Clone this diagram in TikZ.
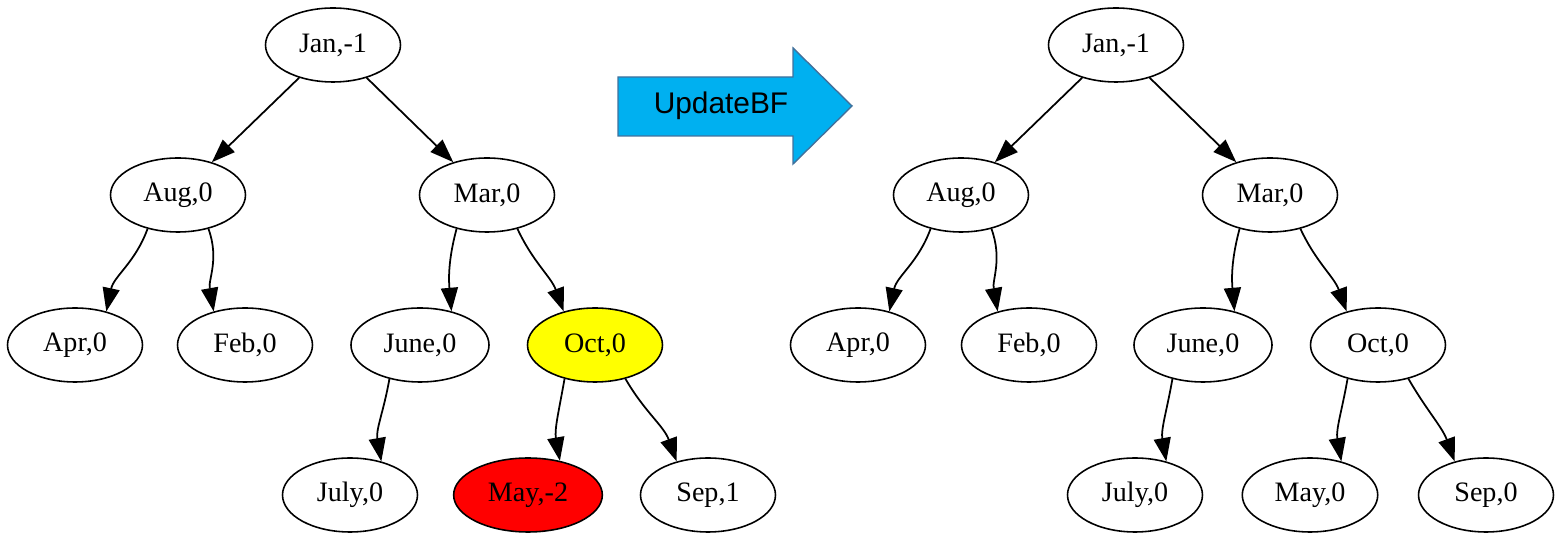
\documentclass[tikz,border=0pt]{standalone}
\usepackage{fontspec}
\setmainfont{Liberation Serif}
\newfontfamily\arialfont{Liberation Sans}
\usetikzlibrary{shapes.geometric, arrows.meta}
\definecolor{nodeyellow}{RGB}{255,255,0}
\definecolor{nodered}{RGB}{255,0,0}
\definecolor{calloutblue}{RGB}{0,176,240}
\definecolor{calloutedge}{RGB}{65,113,156}

\begin{document}
\begin{tikzpicture}[
    x=0.02cm, y=0.02cm,
    avl/.style={ellipse, draw=black, line width=0.9pt, inner xsep=0.25cm, inner ysep=0pt,
                minimum width=2.7cm, minimum height=1.48cm, font=\fontsize{16}{19}\selectfont},
    arrow/.style={-{Triangle[length=0.47cm, width=0.34cm]}, line width=1pt}
]
    \useasboundingbox (0,0) rectangle (1560,-543);

    % Left tree (before)
    \node[avl] (ljan) at (333,-45) {Jan,-1};
    \node[avl] (laug) at (178,-195) {Aug,0};
    \node[avl] (lmar) at (487,-195) {Mar,0};
    \node[avl] (lapr) at (75,-345) {Apr,0};
    \node[avl] (lfeb) at (245,-345) {Feb,0};
    \node[avl] (ljune) at (420,-345) {June,0};
    \node[avl, fill=nodeyellow] (loct) at (595,-345) {Oct,0};
    \node[avl] (ljuly) at (350,-495) {July,0};
    \node[avl, fill=nodered] (lmay) at (528,-495) {May,-2};
    \node[avl] (lsep) at (708,-495) {Sep,1};

    % Right tree (after)
    \node[avl] (rjan) at (1116,-45) {Jan,-1};
    \node[avl] (raug) at (961,-195) {Aug,0};
    \node[avl] (rmar) at (1270,-195) {Mar,0};
    \node[avl] (rapr) at (858,-345) {Apr,0};
    \node[avl] (rfeb) at (1029,-345) {Feb,0};
    \node[avl] (rjune) at (1203,-345) {June,0};
    \node[avl] (roct) at (1378,-345) {Oct,0};
    \node[avl] (rjuly) at (1135,-495) {July,0};
    \node[avl] (rmay) at (1310,-495) {May,0};
    \node[avl] (rsep) at (1486,-495) {Sep,0};

    % Left edges
    \draw[arrow] (ljan) -- (laug);
    \draw[arrow] (ljan) -- (lmar);
    \draw[arrow] (laug.228) to[out=-110, in=78] (lapr.47);
    \draw[arrow] (laug.-48) to[out=-70, in=100] (lfeb.133);
    \draw[arrow] (lmar.228) to[out=-105, in=95] (ljune.47);
    \draw[arrow] (lmar.-48) to[out=-65, in=110] (loct.133);
    \draw[arrow] (ljune.228) to[out=-100, in=100] (ljuly.47);
    \draw[arrow] (loct.228) to[out=-100, in=100] (lmay.47);
    \draw[arrow] (loct.-48) to[out=-60, in=110] (lsep.133);

    % Right edges
    \draw[arrow] (rjan) -- (raug);
    \draw[arrow] (rjan) -- (rmar);
    \draw[arrow] (raug.228) to[out=-110, in=78] (rapr.47);
    \draw[arrow] (raug.-48) to[out=-70, in=100] (rfeb.133);
    \draw[arrow] (rmar.228) to[out=-105, in=95] (rjune.47);
    \draw[arrow] (rmar.-48) to[out=-65, in=110] (roct.133);
    \draw[arrow] (rjune.228) to[out=-100, in=100] (rjuly.47);
    \draw[arrow] (roct.228) to[out=-100, in=100] (rmay.47);
    \draw[arrow] (roct.-48) to[out=-60, in=110] (rsep.133);

    % Block arrow between the trees
    \draw[fill=calloutblue, draw=calloutedge, line width=0.8pt]
        (618,-77) -- (793,-77) -- (793,-48) -- (852,-106) -- (793,-164)
        -- (793,-136) -- (618,-136) -- cycle;
    \node[font=\arialfont\fontsize{17}{20}\selectfont] (update) at (721,-106) {UpdateBF};
\end{tikzpicture}
\end{document}
